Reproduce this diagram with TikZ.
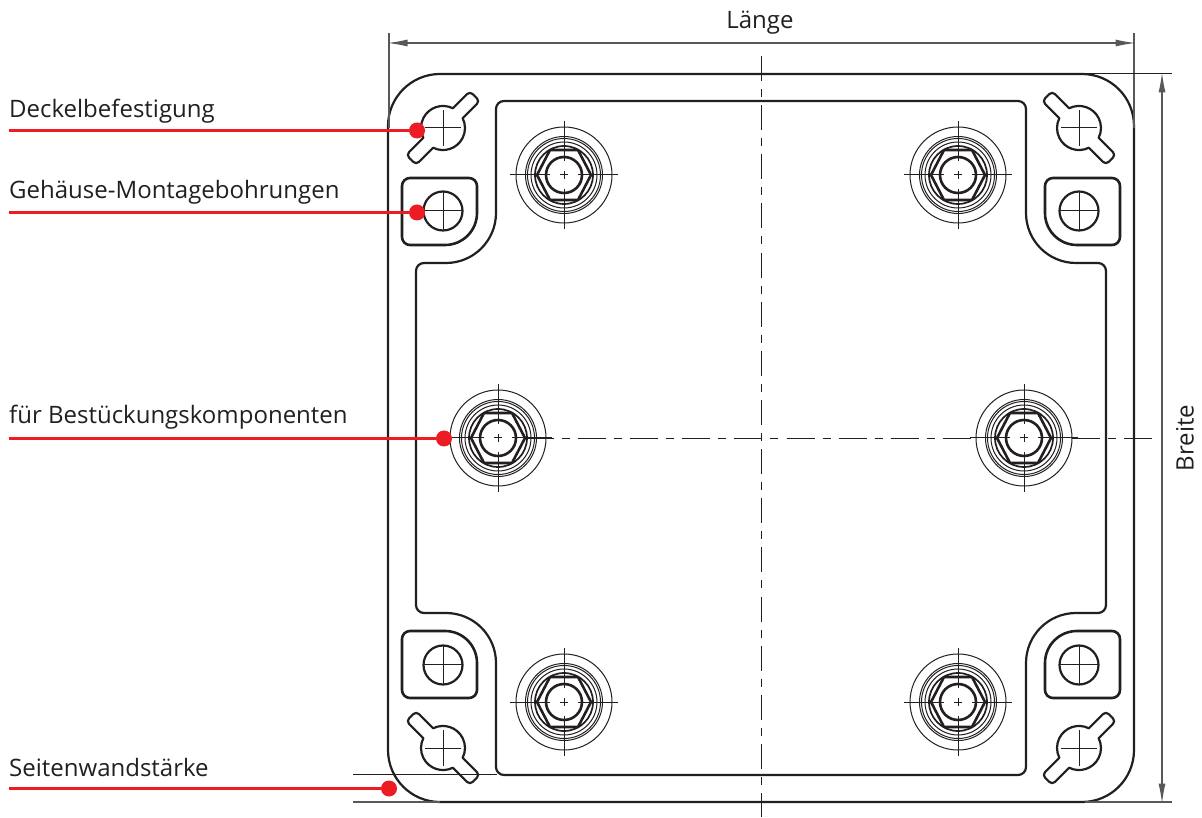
\documentclass[tikz,border=0pt]{standalone}
\usepackage{fontspec}
\setmainfont{Open Sans}
\usetikzlibrary{arrows.meta}
\definecolor{redline}{RGB}{237,28,36}
\definecolor{inkline}{RGB}{35,31,32}
\tikzset{
  x=1pt,y=1pt,
  body/.style={draw=inkline,line width=2.2pt,line join=round},
  bold/.style={draw=inkline,line width=2.6pt,line join=round},
  thin/.style={draw=inkline,line width=1pt},
  haxis/.style={draw=inkline,line width=0.9pt,dash pattern=on 28pt off 8pt on 8pt off 8pt},
  vaxis/.style={draw=inkline,line width=0.9pt,dash pattern=on 25pt off 8pt on 8pt off 8.14pt},
  dim/.style={draw=inkline!75,line width=1.2pt},
  arrowdim/.style={dim,{Latex[length=20pt,width=7pt]}-{Latex[length=20pt,width=7pt]}},
  leader/.style={draw=redline,line width=3pt},
  dot/.style={circle,fill=redline,inner sep=0pt,minimum size=16pt},
  lbl/.style={font=\fontsize{24}{26}\selectfont,text=inkline,inner sep=0pt,anchor=base west},
  dimlbl/.style={font=\fontsize{24}{26}\selectfont,text=inkline,inner sep=0pt},
}
\newcommand{\cornerparts}{%
  % rounded square with a large inner corner
  \draw[bold] (284,225) arc[start angle=180,end angle=270,radius=32] -- (351,193)
    arc[start angle=-90,end angle=0,radius=8] -- (359,252)
    arc[start angle=0,end angle=90,radius=8] -- (292,260)
    arc[start angle=90,end angle=180,radius=8] -- cycle;
  \draw[body] (318,227) circle[radius=19.5];
  \draw[thin] (299,227) -- (337,227) (318,208) -- (318,246);
  % keyhole slot
  \begin{scope}[shift={(318,310)},rotate=-45]
    \draw[body] (20.9,7) -- (41,7) arc[start angle=90,end angle=0,radius=4] -- (45,-3)
      arc[start angle=0,end angle=-90,radius=4] -- (20.9,-7)
      arc[start angle=-18.5,end angle=-161.5,radius=22] -- (-41,-7)
      arc[start angle=-90,end angle=-180,radius=4] -- (-45,3)
      arc[start angle=180,end angle=90,radius=4] -- (-20.9,7)
      arc[start angle=161.5,end angle=18.5,radius=22] -- cycle;
    \begin{scope}[rotate=45]
      \draw[thin] (-18,0) -- (18,0) (0,-18) -- (0,18);
    \end{scope}
  \end{scope}
}
\newcommand{\standoff}[2]{%
  \begin{scope}[shift={(#1,#2)}]
    \draw[thin] (0,0) circle[radius=48] (0,0) circle[radius=38.5] (0,0) circle[radius=36.5] (0,0) circle[radius=33];
    \draw[draw=inkline,line width=1.7pt] (0,0) circle[radius=29];
    \draw[bold] (27,0) -- (14,25) -- (-14,25) -- (-27,0) -- (-14,-25) -- (14,-25) -- cycle;
    \draw[bold] (0,0) circle[radius=18];
    \draw[thin] (-54,0) -- (-14,0) (14,0) -- (54,0) (0,-54) -- (0,-14) (0,14) -- (0,54)
      (-4,0) -- (4,0) (0,-4) -- (0,4);
  \end{scope}
}
\begin{document}
\begin{tikzpicture}
\useasboundingbox (0,0) rectangle (1202,817);
\begin{scope}[shift={(761,379)}]
  % outer contour
  \draw[body,rounded corners=52pt] (-373,-364) rectangle (373,364);
  % inner cavity
  \draw[body] (-257,337) -- (257,337) arc[start angle=90,end angle=0,radius=8]
    -- (265,225) arc[start angle=180,end angle=270,radius=50]
    -- (337,175) arc[start angle=90,end angle=0,radius=8]
    -- (345,-167) arc[start angle=0,end angle=-90,radius=8]
    -- (315,-175) arc[start angle=90,end angle=180,radius=50]
    -- (265,-329) arc[start angle=0,end angle=-90,radius=8]
    -- (-257,-337) arc[start angle=-90,end angle=-180,radius=8]
    -- (-265,-225) arc[start angle=0,end angle=90,radius=50]
    -- (-337,-175) arc[start angle=-90,end angle=-180,radius=8]
    -- (-345,167) arc[start angle=180,end angle=90,radius=8]
    -- (-315,175) arc[start angle=-90,end angle=0,radius=50]
    -- (-265,329) arc[start angle=180,end angle=90,radius=8] -- cycle;
  \cornerparts
  \begin{scope}[xscale=-1]\cornerparts\end{scope}
  \begin{scope}[yscale=-1]\cornerparts\end{scope}
  \begin{scope}[xscale=-1,yscale=-1]\cornerparts\end{scope}
  \standoff{-197}{263}\standoff{197}{263}
  \standoff{-197}{-264}\standoff{197}{-264}
  \standoff{-263}{0}\standoff{263}{0}
  % centre lines
  \draw[vaxis] (0,382) -- (0,-379);
  \draw[haxis] (-235,0) -- (0,0);
  \draw[haxis] (25.5,0) -- (215,0);
  \draw[draw=inkline,line width=0.9pt] (9,0) -- (17,0);
  \draw[haxis] (391,0) -- (310,0);
\end{scope}
% dimension lines
\coordinate (lenL) at (387.5,774);
\coordinate (lenR) at (1135.5,774);
\coordinate (brT) at (1162,744.5);
\coordinate (brB) at (1162,13.5);
\draw[dim] (389,784) -- (389,689) (1134,784) -- (1134,689);
\draw[thin] (1085,743) -- (1172,743);
\draw[dim] (1085,15) -- (1172,15);
\draw[thin] (353,43) -- (497,43);
\draw[dim] (353,15) -- (440,15);
\draw[arrowdim] (lenL) -- (lenR);
\draw[arrowdim] (brT) -- (brB);
\node[dimlbl] (laenge) at (760,794) {Länge};
\node[dimlbl,rotate=90] (breite) at (1185,379) {Breite};
% labels and leaders
\node[lbl] (deckel) at (9,699) {Deckelbefestigung};
\node[lbl] (gehaeuse) at (9,618) {Gehäuse-Montagebohrungen};
\node[lbl] (fuer) at (9,393) {für Bestückungskomponenten};
\node[lbl] (seiten) at (9,41) {Seitenwandstärke};
\node[dot] (d1) at (417,686.5) {};
\node[dot] (d2) at (417,604.5) {};
\node[dot] (d3) at (444,378.5) {};
\node[dot] (d4) at (389,28.5) {};
\coordinate (s1) at (9,686.5);
\coordinate (s2) at (9,604.5);
\coordinate (s3) at (9,378.5);
\coordinate (s4) at (9,28.5);
\draw[leader] (s1) -- (d1);
\draw[leader] (s2) -- (d2);
\draw[leader] (s3) -- (d3);
\draw[leader] (s4) -- (d4);
\end{tikzpicture}
\end{document}
